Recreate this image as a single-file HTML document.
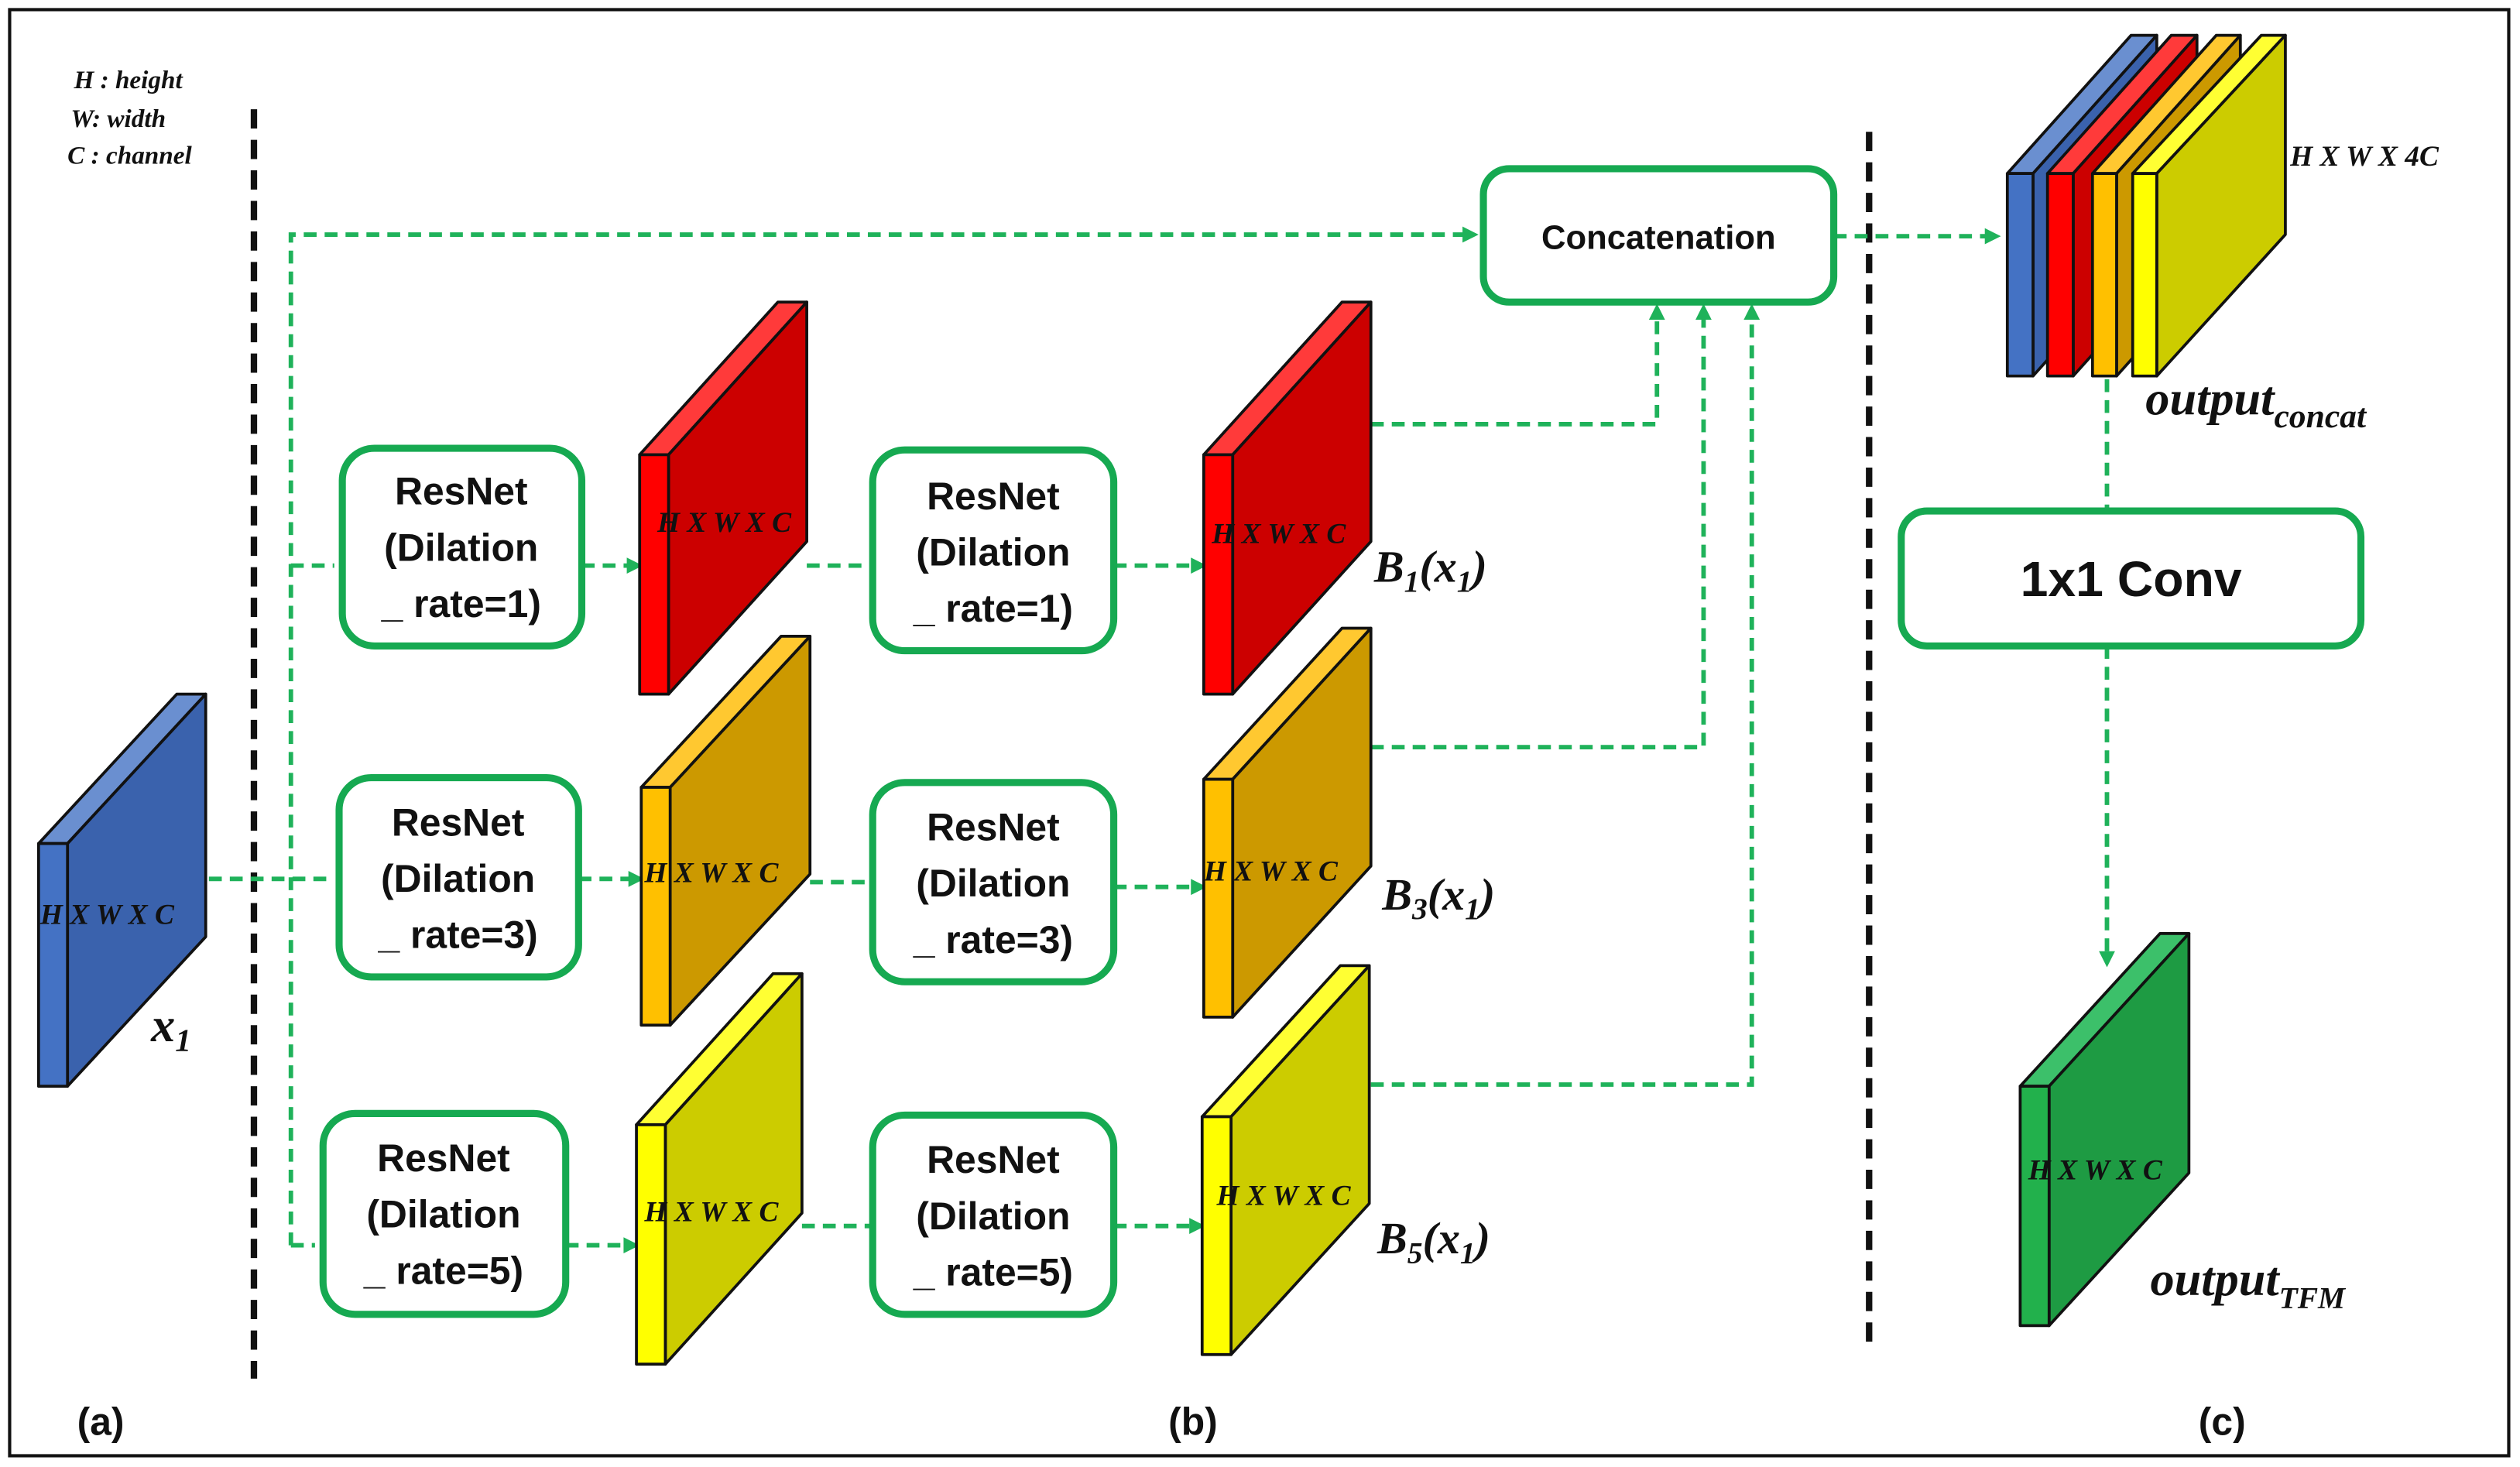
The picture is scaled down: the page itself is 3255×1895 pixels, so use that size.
<!DOCTYPE html>
<html><head><meta charset="utf-8"><style>
html,body{margin:0;padding:0;background:#fff}
svg{display:block}
.g{stroke:#1fb25a;stroke-width:2.8;stroke-dasharray:8 5;fill:none}
.bx{fill:#fff;stroke:#16a951;stroke-width:4.4}
.bt{font-family:"Liberation Sans",sans-serif;font-weight:bold;font-size:24px;fill:#111;text-anchor:middle}
.m{font-family:"Liberation Serif",serif;font-style:italic;font-weight:bold;fill:#111}
.k{stroke:#111;stroke-width:1.8;stroke-linejoin:round}
.ah{fill:#1fb25a}
</style></head><body>
<svg width="3255" height="1895" viewBox="0 0 1568 913" preserveAspectRatio="none" xmlns="http://www.w3.org/2000/svg">
<rect x="0" y="0" width="1568" height="913" fill="#fff"/>
<rect x="6" y="6" width="1555" height="900" fill="none" stroke="#111" stroke-width="2"/>
<text class="m" x="46" y="55" font-size="16">H : height</text>
<text class="m" x="44" y="79" font-size="16">W: width</text>
<text class="m" x="42" y="102" font-size="16">C : channel</text>
<line x1="158" y1="68" x2="158" y2="858" stroke="#111" stroke-width="4" stroke-dasharray="12 7"/>
<line x1="1163" y1="82" x2="1163" y2="840" stroke="#111" stroke-width="4" stroke-dasharray="12 7"/>

<path class="g" d="M181 775 V146 H912"/>
<path class="g" d="M181 352 H208"/>
<path class="g" d="M130 547 H206"/>
<path class="g" d="M181 775 H196"/>
<path class="g" d="M362 352 H392"/><path class="g" d="M360 547 H393"/><path class="g" d="M352 775 H390"/>
<path class="g" d="M502 352 H543"/><path class="g" d="M504 549 H543"/><path class="g" d="M499 763 H543"/>
<path class="g" d="M693 352 H743"/><path class="g" d="M693 552 H743"/><path class="g" d="M693 763 H742"/>
<path class="g" d="M853 264 H1031 V196"/>
<path class="g" d="M853 465 H1060 V196"/>
<path class="g" d="M853 675 H1090 V196"/>
<path class="g" d="M1141 147 H1237"/>
<path class="g" d="M1311 236 V318"/>
<path class="g" d="M1311 402 V594"/>
<g class="ah">
<polygon points="920,146 910,141 910,151"/>
<polygon points="400,352 390,347 390,357"/><polygon points="401,547 391,542 391,552"/><polygon points="398,775 388,770 388,780"/>
<polygon points="751,352 741,347 741,357"/><polygon points="751,552 741,547 741,557"/><polygon points="750,763 740,758 740,768"/>
<polygon points="1031,189 1026,199 1036,199"/><polygon points="1060,189 1055,199 1065,199"/><polygon points="1090,189 1085,199 1095,199"/>
<polygon points="1245,147 1235,142 1235,152"/>
<polygon points="1311,602 1306,592 1316,592"/>
</g>

<rect class="bx" x="213" y="279" width="149" height="123" rx="20"/>
<rect class="bx" x="211" y="484" width="149" height="124" rx="20"/>
<rect class="bx" x="201" y="693" width="151" height="125" rx="20"/>
<rect class="bx" x="543" y="280" width="150" height="125" rx="20"/>
<rect class="bx" x="543" y="487" width="150" height="124" rx="20"/>
<rect class="bx" x="543" y="694" width="150" height="124" rx="20"/>
<rect class="bx" x="923" y="105" width="218" height="83" rx="16"/>
<rect class="bx" x="1183" y="318" width="286" height="84" rx="16"/>
<g class="bt">
<text x="287" y="314">ResNet</text><text x="287" y="349">(Dilation</text><text x="287" y="384">_ rate=1)</text>
<text x="285" y="520">ResNet</text><text x="285" y="555">(Dilation</text><text x="285" y="590">_ rate=3)</text>
<text x="276" y="729">ResNet</text><text x="276" y="764">(Dilation</text><text x="276" y="799">_ rate=5)</text>
<text x="618" y="317">ResNet</text><text x="618" y="352">(Dilation</text><text x="618" y="387">_ rate=1)</text>
<text x="618" y="523">ResNet</text><text x="618" y="558">(Dilation</text><text x="618" y="593">_ rate=3)</text>
<text x="618" y="730">ResNet</text><text x="618" y="765">(Dilation</text><text x="618" y="800">_ rate=5)</text>
<text x="1032" y="155" font-size="21">Concatenation</text>
<text x="1326" y="371" font-size="31">1x1 Conv</text>
</g>

<g class="k">
<polygon points="24,525 110,432 128,432 42,525" fill="#6a8fd0"/><polygon points="42,525 128,432 128,583 42,676" fill="#3a62ad"/><rect x="24" y="525" width="18" height="151" fill="#4472c4"/>
<polygon points="398,283 484,188 502,188 416,283" fill="#ff3a3a"/><polygon points="416,283 502,188 502,337 416,432" fill="#cc0000"/><rect x="398" y="283" width="18" height="149" fill="#ff0000"/>
<polygon points="399,490 486,396 504,396 417,490" fill="#ffc830"/><polygon points="417,490 504,396 504,544 417,638" fill="#cc9900"/><rect x="399" y="490" width="18" height="148" fill="#ffc000"/>
<polygon points="396,700 481,606 499,606 414,700" fill="#ffff33"/><polygon points="414,700 499,606 499,755 414,849" fill="#cccc00"/><rect x="396" y="700" width="18" height="149" fill="#ffff00"/>
<polygon points="749,283 835,188 853,188 767,283" fill="#ff3a3a"/><polygon points="767,283 853,188 853,337 767,432" fill="#cc0000"/><rect x="749" y="283" width="18" height="149" fill="#ff0000"/>
<polygon points="749,485 835,391 853,391 767,485" fill="#ffc830"/><polygon points="767,485 853,391 853,539 767,633" fill="#cc9900"/><rect x="749" y="485" width="18" height="148" fill="#ffc000"/>
<polygon points="748,695 834,601 852,601 766,695" fill="#ffff33"/><polygon points="766,695 852,601 852,749 766,843" fill="#cccc00"/><rect x="748" y="695" width="18" height="148" fill="#ffff00"/>
<polygon points="1257,676 1344,581 1362,581 1275,676" fill="#3cc06a"/><polygon points="1275,676 1362,581 1362,730 1275,825" fill="#1e9b43"/><rect x="1257" y="676" width="18" height="149" fill="#22b14c"/>
<polygon points="1249,108 1326,22 1342,22 1265,108" fill="#6a8fd0"/><polygon points="1265,108 1342,22 1342,148 1265,234" fill="#3a62ad"/><rect x="1249" y="108" width="16" height="126" fill="#4472c4"/>
<polygon points="1274,108 1351,22 1367,22 1290,108" fill="#ff3a3a"/><polygon points="1290,108 1367,22 1367,148 1290,234" fill="#cc0000"/><rect x="1274" y="108" width="16" height="126" fill="#ff0000"/>
<polygon points="1302,108 1379,22 1394,22 1317,108" fill="#ffc830"/><polygon points="1317,108 1394,22 1394,148 1317,234" fill="#cc9900"/><rect x="1302" y="108" width="15" height="126" fill="#ffc000"/>
<polygon points="1327,108 1407,22 1422,22 1342,108" fill="#ffff33"/><polygon points="1342,108 1422,22 1422,146 1342,234" fill="#cccc00"/><rect x="1327" y="108" width="15" height="126" fill="#ffff00"/>
</g>

<g class="m" font-size="18">
<text x="25" y="575">H X W X C</text>
<text x="409" y="331">H X W X C</text>
<text x="401" y="549">H X W X C</text>
<text x="401" y="760">H X W X C</text>
<text x="754" y="338">H X W X C</text>
<text x="749" y="548">H X W X C</text>
<text x="757" y="750">H X W X C</text>
<text x="1262" y="734">H X W X C</text>
<text x="1425" y="103">H X W X 4C</text>
</g>
<g class="m" font-size="28">
<text x="94" y="648" font-size="30">x<tspan font-size="20" dy="6">1</tspan></text>
<text x="855" y="362">B<tspan font-size="19" dy="6">1</tspan><tspan dy="-6">(x</tspan><tspan font-size="19" dy="6">1</tspan><tspan dy="-6">)</tspan></text>
<text x="860" y="566">B<tspan font-size="19" dy="6">3</tspan><tspan dy="-6">(x</tspan><tspan font-size="19" dy="6">1</tspan><tspan dy="-6">)</tspan></text>
<text x="857" y="780">B<tspan font-size="19" dy="6">5</tspan><tspan dy="-6">(x</tspan><tspan font-size="19" dy="6">1</tspan><tspan dy="-6">)</tspan></text>
<text x="1335" y="258" font-size="30">output<tspan font-size="21" dy="8">concat</tspan></text>
<text x="1338" y="806" font-size="30">output<tspan font-size="19" dy="8">TFM</tspan></text>
</g>
<g font-family="Liberation Sans,sans-serif" font-weight="bold" font-size="24" fill="#111">
<text x="48" y="893">(a)</text><text x="727" y="893">(b)</text><text x="1368" y="893">(c)</text>
</g>
</svg>
</body></html>
